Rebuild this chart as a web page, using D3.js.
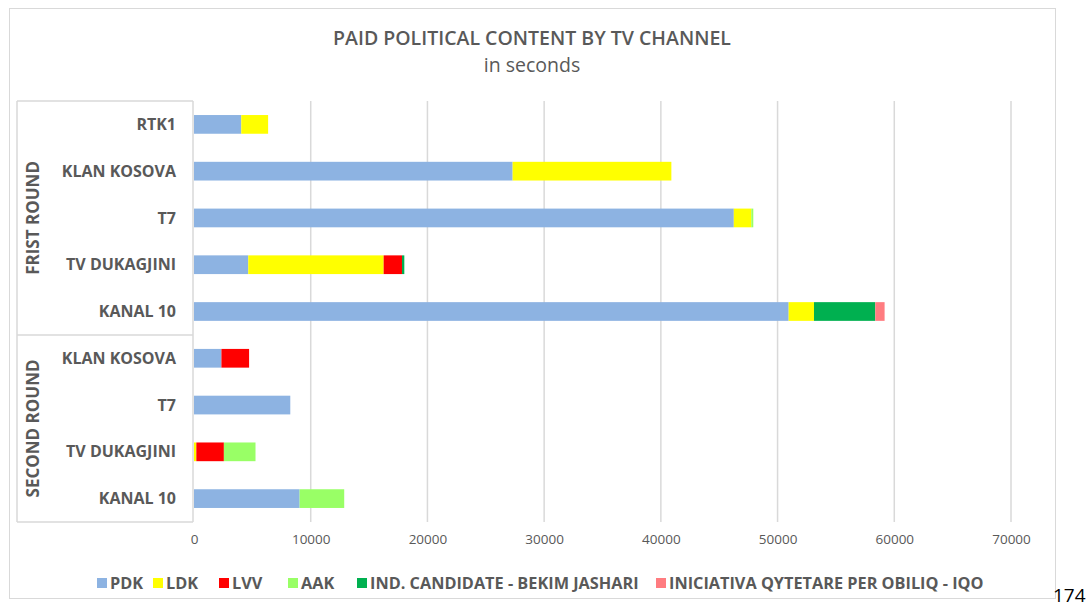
<!DOCTYPE html>
<html>
<head>
<meta charset="utf-8">
<script src="https://cdn.jsdelivr.net/npm/d3@7"></script>
<style>
  body { margin: 0; background: #fff; }
  svg { display: block; }
  text { font-family: "Open Sans", "Noto Sans", sans-serif; }
</style>
</head>
<body>
<svg id="chart" width="1091" height="608"></svg>
<script>
// ---- data ----
const rounds = ["FRIST ROUND", "SECOND ROUND"];
const channels = ["RTK1", "KLAN KOSOVA", "T7", "TV DUKAGJINI", "KANAL 10",
                  "KLAN KOSOVA", "T7", "TV DUKAGJINI", "KANAL 10"];
const channelRound = [0, 0, 0, 0, 0, 1, 1, 1, 1];
const seriesNames = ["PDK", "LDK", "LVV", "AAK", "IND. CANDIDATE - BEKIM JASHARI", "INICIATIVA QYTETARE PER OBILIQ - IQO"];
const seriesColors = ["#8db3e2", "#ffff00", "#ff0000", "#99ff66", "#00b050", "#ff7c80"];
const PDK = [4050, 27300, 46250, 4650, 50950, 2350, 8250, 0, 9050];
const LDK = [2300, 13600, 1500, 11600, 2170, 0, 0, 200, 0];
const LVV = [0, 0, 0, 1570, 0, 2370, 0, 2360, 0];
const AAK = [0, 0, 170, 0, 0, 0, 0, 2710, 3820];
const IND = [0, 0, 0, 200, 5250, 0, 0, 0, 0];
const IQO = [0, 0, 0, 0, 800, 0, 0, 0, 0];
const xTicks = [0, 10000, 20000, 30000, 40000, 50000, 60000, 70000];
const title = "PAID POLITICAL CONTENT BY TV CHANNEL";
const subtitle = "in seconds";

// ---- build table ----
const seriesValues = [PDK, LDK, LVV, AAK, IND, IQO];
const rows = channels.map((c, i) => {
  const r = { idx: i, name: c };
  seriesNames.forEach((s, j) => r[s] = seriesValues[j][i]);
  return r;
});

const svg = d3.select("#chart");
const textCol = "#595959";

// outer chart border
svg.append("rect").attr("x", 9.5).attr("y", 8.5).attr("width", 1046).attr("height", 590)
  .attr("fill", "#fff").attr("stroke", "#d9d9d9").attr("stroke-width", 1);

// title
svg.append("text").attr("x", 532).attr("y", 45).attr("text-anchor", "middle")
  .attr("font-size", 19.5).attr("font-weight", 600).attr("fill", textCol).text(title);
svg.append("text").attr("x", 532).attr("y", 72).attr("text-anchor", "middle")
  .attr("font-size", 19.5).attr("fill", textCol).text(subtitle);

const plot = { left: 194, right: 1011, top: 101, bottom: 522 };
const x = d3.scaleLinear().domain([0, 70000]).range([plot.left, plot.right]);
const y = d3.scaleBand().domain(d3.range(channels.length)).range([plot.top, plot.bottom]).paddingInner(0.6).paddingOuter(0.3);

// gridlines
svg.append("g").selectAll("line").data(xTicks.slice(1)).join("line")
  .attr("x1", d => x(d)).attr("x2", d => x(d))
  .attr("y1", plot.top).attr("y2", plot.bottom)
  .attr("stroke", "#d9d9d9").attr("stroke-width", 1.5);

// x axis labels
const xAxis = d3.axisBottom(x).tickValues(xTicks).tickSize(0).tickPadding(0).tickFormat(d3.format("d"));
const gx = svg.append("g").attr("transform", `translate(0,${plot.bottom + 12})`).call(xAxis);
gx.select(".domain").remove();
gx.selectAll("text").attr("font-size", 13.5).attr("fill", textCol)
  .attr("font-family", "'Open Sans', sans-serif").attr("dy", "0.71em");

// stacked bars
const stack = d3.stack().keys(seriesNames);
const stacked = stack(rows);
svg.append("g").selectAll("g").data(stacked).join("g")
  .attr("fill", (d, i) => seriesColors[i])
  .selectAll("rect").data(d => d).join("rect")
  .attr("x", d => x(d[0]))
  .attr("width", d => Math.max(0, x(d[1]) - x(d[0])))
  .attr("y", (d, i) => y(i))
  .attr("height", y.bandwidth());

// category box lines
const boxLeft = 17;
const boxCol = "#d9d9d9";
const sepY = (y(4) + y.bandwidth() + y(5)) / 2;
const lines = [
  [boxLeft, plot.top, plot.left - 1, plot.top],
  [boxLeft, sepY, plot.left - 1, sepY],
  [boxLeft, plot.bottom, plot.left - 1, plot.bottom],
  [boxLeft, plot.top, boxLeft, plot.bottom],
  [plot.left - 1, plot.top, plot.left - 1, plot.bottom]
];
svg.append("g").selectAll("line").data(lines).join("line")
  .attr("x1", d => d[0]).attr("y1", d => d[1]).attr("x2", d => d[2]).attr("y2", d => d[3])
  .attr("stroke", boxCol).attr("stroke-width", 1.5);

// category labels
svg.append("g").selectAll("text").data(channels).join("text")
  .attr("x", 176).attr("y", (d, i) => y(i) + y.bandwidth() / 2)
  .attr("dy", "0.35em").attr("text-anchor", "end")
  .attr("font-size", 16).attr("font-weight", 700).attr("fill", textCol)
  .text(d => d);

// round labels
const roundCenters = rounds.map((r, k) => {
  const y0 = k === 0 ? plot.top : sepY;
  const y1 = k === 0 ? sepY : plot.bottom;
  return (y0 + y1) / 2;
});
svg.append("g").selectAll("text").data(rounds).join("text")
  .attr("transform", (d, k) => `translate(33,${roundCenters[k]}) rotate(-90)`)
  .attr("dy", "0.35em").attr("text-anchor", "middle")
  .attr("font-size", 17).attr("font-weight", 700).attr("fill", textCol)
  .text(d => d);

// legend
const legendX = [97, 153, 219, 288, 357, 656];
const lg = svg.append("g").selectAll("g").data(seriesNames).join("g")
  .attr("transform", (d, i) => `translate(${legendX[i]},583)`);
lg.append("rect").attr("x", 0).attr("y", -5).attr("width", 10).attr("height", 10)
  .attr("fill", (d, i) => seriesColors[i]);
lg.append("text").attr("x", 13).attr("dy", "0.35em")
  .attr("font-size", 16.3).attr("font-weight", 700).attr("fill", textCol).text(d => d);

// page number
svg.append("text").attr("x", 1053).attr("y", 602).attr("font-family", "'Liberation Serif', serif")
  .attr("font-size", 19).attr("fill", "#000").text("174");
</script>
</body>
</html>
